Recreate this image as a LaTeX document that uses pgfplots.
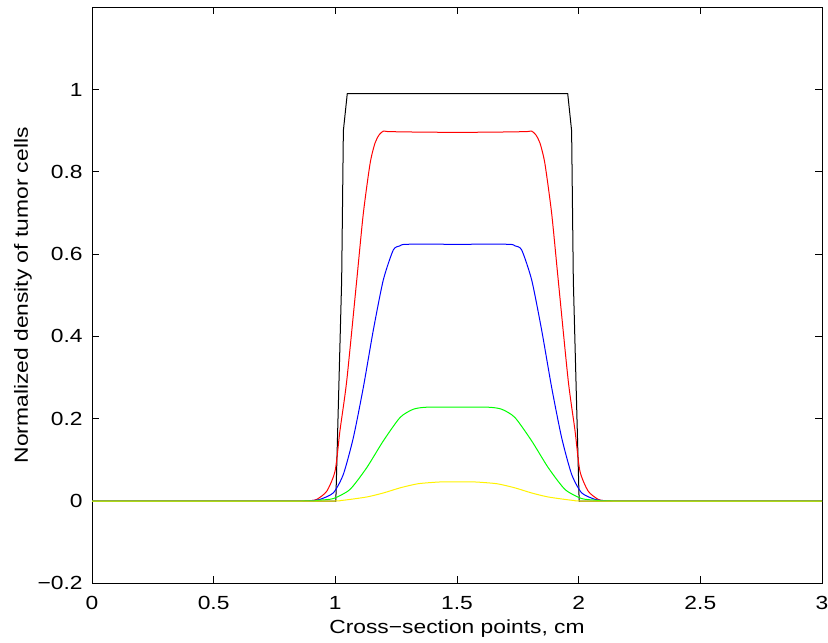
\documentclass[border=0pt]{standalone}
\usepackage{fontspec}
\setmainfont{Liberation Sans}[FakeStretch=1.2]
\usepackage{pgfplots}
\pgfplotsset{compat=1.18}
\usetikzlibrary{calc}

\newcommand{\lblfont}{\fontsize{9.5}{11}\selectfont}

\begin{document}
\begin{tikzpicture}
\begin{axis}[
    name=ax,
    scale only axis,
    width=365pt, height=288pt,
    xmin=0, xmax=3, ymin=-0.2, ymax=1.2,
    xtick={0,0.5,1,1.5,2,2.5,3},
    xticklabels={0,0.5,1,1.5,2,2.5,3},
    ytick={-0.2,0,0.2,0.4,0.6,0.8,1},
    yticklabels={−0.2,0,0.2,0.4,0.6,0.8,1},
    tick pos=both,
    tick align=inside,
    major tick length=3.5pt,
    every tick/.style={black, line width=0.4pt},
    axis line style={black, line width=0.5pt},
    x tick label style={font=\lblfont, anchor=base, inner sep=0pt, yshift=-12.85pt},
    y tick label style={font=\lblfont, anchor=east, inner sep=0pt, xshift=-4.5pt},
    xlabel={Cross−section points, cm},
    ylabel={Normalized density of tumor cells},
    every axis x label/.style={font=\lblfont, at={(axis description cs:0.5,0)}, anchor=base, inner sep=0pt, yshift=-24.85pt},
    every axis y label/.style={font=\lblfont, at={(axis description cs:0,0.5)}, xshift=-32pt, rotate=90, anchor=base, inner sep=0pt},
    every axis plot/.append style={line width=0.5pt},
]
% step profile (initial)
\addplot[black] coordinates {
    (0,0) (1.002,0) (1.026,0.537) (1.033,0.90) (1.049,0.99)
    (1.955,0.99) (1.971,0.90) (1.978,0.537) (2.002,0) (3,0)
};
\addplot[red, smooth, tension=0.4] coordinates {
    (0,0) (0.85,0) (0.90,0.001) (0.924,0.004) (0.965,0.024) (0.999,0.073)
    (1.019,0.171) (1.047,0.293) (1.088,0.537) (1.115,0.699) (1.143,0.821)
    (1.163,0.870) (1.180,0.890) (1.197,0.899) (1.215,0.898) (1.30,0.897)
    (1.502,0.896)
    (1.704,0.897) (1.789,0.898) (1.807,0.899) (1.824,0.890) (1.841,0.870)
    (1.861,0.821) (1.889,0.699) (1.916,0.537) (1.957,0.293) (1.985,0.171)
    (2.005,0.073) (2.039,0.024) (2.080,0.004) (2.104,0.001) (2.154,0) (3,0)
};
\addplot[blue, smooth, tension=0.4] coordinates {
    (0,0) (0.85,0) (0.90,0.001) (0.937,0.004) (0.992,0.020) (1.033,0.065)
    (1.074,0.154) (1.115,0.276) (1.156,0.415) (1.197,0.537) (1.238,0.610)
    (1.265,0.620) (1.293,0.624) (1.502,0.624)
    (1.711,0.624) (1.739,0.620) (1.766,0.610) (1.807,0.537) (1.848,0.415)
    (1.889,0.276) (1.930,0.154) (1.971,0.065) (2.012,0.020) (2.067,0.004)
    (2.104,0.001) (2.154,0) (3,0)
};
\addplot[green, smooth, tension=0.4] coordinates {
    (0,0) (0.85,0) (0.93,0.002) (0.992,0.006) (1.06,0.028) (1.129,0.081)
    (1.197,0.146) (1.266,0.203) (1.32,0.223) (1.375,0.228) (1.502,0.228)
    (1.629,0.228) (1.684,0.223) (1.738,0.203) (1.807,0.146) (1.875,0.081)
    (1.944,0.028) (2.012,0.006) (2.074,0.002) (2.154,0) (3,0)
};
\addplot[yellow, smooth, tension=0.4] coordinates {
    (0,0) (0.95,0) (1.02,0.001) (1.129,0.0098) (1.20,0.020) (1.266,0.032)
    (1.34,0.042) (1.43,0.0463) (1.502,0.0465)
    (1.574,0.0463) (1.664,0.042) (1.738,0.032) (1.804,0.020) (1.875,0.0098)
    (1.984,0.001) (2.054,0) (3,0)
};
\end{axis}
\pgfresetboundingbox
\path ($(ax.south west)+(-46pt,-29.35pt)$) rectangle ($(ax.north east)+(3pt,3.65pt)$);
\end{tikzpicture}
\end{document}
